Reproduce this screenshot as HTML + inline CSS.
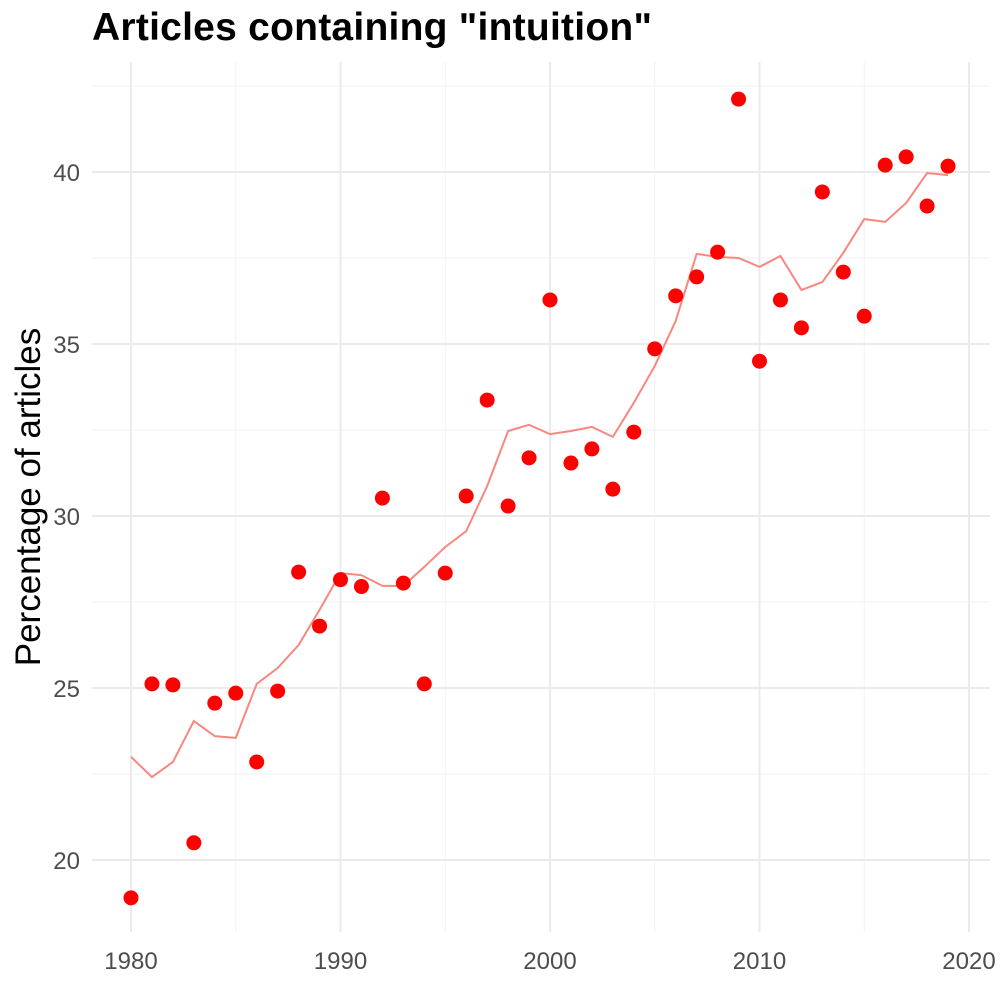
<!DOCTYPE html>
<html><head><meta charset="utf-8"><style>
body{margin:0;background:#fff;}
svg text{font-family:"Liberation Sans",sans-serif;}
</style></head><body>
<svg id="chart" width="1000" height="1000" xmlns="http://www.w3.org/2000/svg">
<text x="92" y="40" font-size="39" font-weight="bold" fill="#000" textLength="560">Articles containing "intuition"</text>
<text transform="translate(40,497) rotate(-90)" text-anchor="middle" font-size="35" fill="#000">Percentage of articles</text>
<g id="grid"></g><g id="ticks"></g><g id="series"></g>
</svg>
<script>
const years=[];for(let y=1980;y<=2019;y++)years.push(y);
const pctValues=[18.9,25.12,25.09,20.5,24.56,24.85,22.85,24.91,28.37,26.8,28.15,27.95,30.52,28.05,25.12,28.34,30.58,33.37,30.29,31.69,36.28,31.54,31.95,30.78,32.44,34.86,36.4,36.95,37.67,42.12,34.5,36.28,35.47,39.42,37.09,35.81,40.2,40.44,39.01,40.17];
const trendValues=[23.0,22.41,22.85,24.04,23.6,23.55,25.12,25.58,26.25,27.27,28.34,28.28,27.97,27.97,28.52,29.1,29.56,30.87,32.47,32.65,32.38,32.47,32.59,32.3,33.29,34.36,35.67,37.62,37.53,37.5,37.24,37.56,36.57,36.8,37.65,38.63,38.55,39.1,39.97,39.91];
const xTicks=[1980,1990,2000,2010,2020];
const xMinor=[1985,1995,2005,2015];
const yTicks=[20,25,30,35,40];
const yMinor=[22.5,27.5,32.5,37.5,42.5];
const X=v=>131+(v-1980)*(969-131)/40;
const Y=v=>860-(v-20)*34.4;
const NS="http://www.w3.org/2000/svg";
function mk(parent,tag,attrs){const e=document.createElementNS(NS,tag);for(const k in attrs)e.setAttribute(k,attrs[k]);document.getElementById(parent).appendChild(e);return e;}
const L=92,R=990,T=62,B=932;
yMinor.forEach(v=>{const e=mk('grid','line',{x1:L,x2:R,y1:Y(v),y2:Y(v),stroke:'#f2f2f2','stroke-width':1});

});
xMinor.forEach(v=>{const e=mk('grid','line',{x1:X(v),x2:X(v),y1:T,y2:B,stroke:'#f2f2f2','stroke-width':1});

});
yTicks.forEach(v=>{const e=mk('grid','line',{x1:L,x2:R,y1:Y(v),y2:Y(v),stroke:'#ebebeb','stroke-width':2});


const t=mk('ticks','text',{x:80,y:Y(v)+9,'text-anchor':'end','font-size':24,fill:'#4d4d4d'});t.textContent=v;

});
xTicks.forEach(v=>{const e=mk('grid','line',{x1:X(v),x2:X(v),y1:T,y2:B,stroke:'#ebebeb','stroke-width':2});


const t=mk('ticks','text',{x:X(v),y:969,'text-anchor':'middle','font-size':24,fill:'#4d4d4d'});t.textContent=v;

});
const line=mk('series','polyline',{points:years.map((y,i)=>X(y)+','+Y(trendValues[i])).join(' '),fill:'none',stroke:'#f8877f','stroke-width':2});


years.forEach((y,i)=>{const c=mk('series','circle',{cx:X(y),cy:Y(pctValues[i]),r:7.5,fill:'#ff0000'});

});
</script>
</body></html>
